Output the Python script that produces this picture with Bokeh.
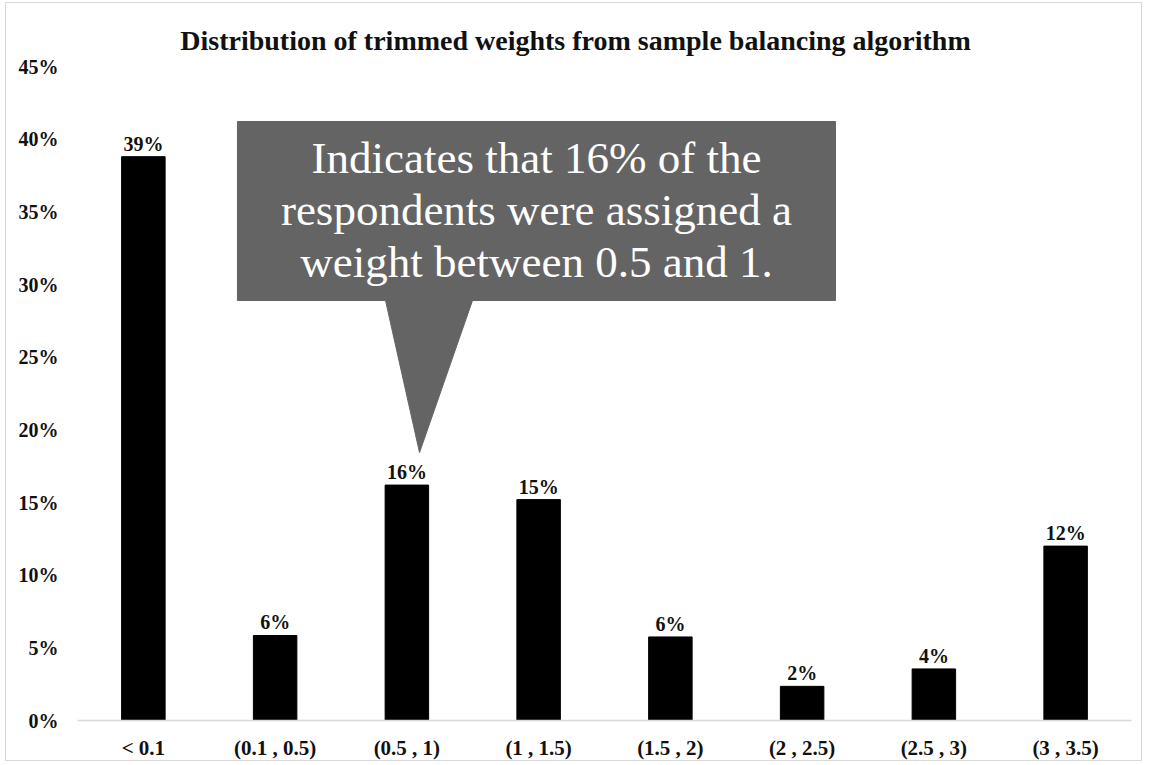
from bokeh.plotting import figure
from bokeh.models import (FactorRange, Range1d, FixedTicker, NumeralTickFormatter,
                          Label, ColumnDataSource)
from bokeh.embed import file_html
from bokeh.resources import INLINE

# Weight bins and share of respondents in each bin
categories = ["< 0.1", "(0.1 , 0.5)", "(0.5 , 1)", "(1 , 1.5)",
              "(1.5 , 2)", "(2 , 2.5)", "(2.5 , 3)", "(3 , 3.5)"]
shares = [0.388, 0.0585, 0.162, 0.152, 0.0575, 0.0235, 0.0355, 0.120]
y_ticks = [0.0, 0.05, 0.10, 0.15, 0.20, 0.25, 0.30, 0.35, 0.40, 0.45]

title_text = "Distribution of trimmed weights from sample balancing algorithm"
note_lines = ["Indicates that 16% of the",
              "respondents were assigned a",
              "weight between 0.5 and 1."]
note_target = "(0.5 , 1)"

SERIF = "Liberation Serif"

p = figure(
    x_range=FactorRange(factors=categories, range_padding=0),
    y_range=Range1d(0, 0.4934),
    width=1137, height=759,
    min_border_left=71, min_border_right=12,
    min_border_top=0, min_border_bottom=42,
    output_backend="svg", toolbar_location=None,
    background_fill_color="white", border_fill_color="white",
)
p.margin = (2, 0, 0, 5)
p.styles = {"border": "1px solid #d9d9d9"}
p.outline_line_color = None
p.xgrid.grid_line_color = None
p.ygrid.grid_line_color = None

# Bars
src = ColumnDataSource(dict(
    cat=categories,
    share=shares,
    label=[f"{round(v * 100)}%" for v in shares],
))
p.vbar(x="cat", top="share", width=0.33, source=src,
       fill_color="black", line_color="black")

# Value labels above each bar
p.text(x="cat", y="share", text="label", source=src,
       text_align="center", text_baseline="alphabetic", y_offset=-13,
       text_font=SERIF, text_font_style="bold", text_font_size="20px",
       text_color="#111111")

# Axes
p.yaxis.ticker = FixedTicker(ticks=y_ticks)
p.yaxis.formatter = NumeralTickFormatter(format="0%")
p.yaxis.axis_line_color = None
p.yaxis.major_tick_line_color = None
p.yaxis.minor_tick_line_color = None
p.yaxis.major_label_standoff = 13
p.yaxis.major_label_text_font = SERIF
p.yaxis.major_label_text_font_style = "bold"
p.yaxis.major_label_text_font_size = "20px"
p.yaxis.major_label_text_color = "#111111"

p.xaxis.axis_line_color = "#d9d9d9"
p.xaxis.axis_line_width = 1.5
p.xaxis.major_tick_line_color = None
p.xaxis.minor_tick_line_color = None
p.xaxis.major_label_standoff = 9
p.xaxis.major_label_text_font = SERIF
p.xaxis.major_label_text_font_style = "bold"
p.xaxis.major_label_text_font_size = "21px"
p.xaxis.major_label_text_color = "#111111"

# Title
p.add_layout(Label(x=4.0, y=0.4679, x_offset=-29, text=title_text,
                   text_align="center", text_baseline="alphabetic",
                   text_font=SERIF, text_font_style="bold",
                   text_font_size="28px", text_color="#111111"))

# Callout box pointing at the highlighted bin
idx = categories.index(note_target)
target_share = shares[idx]
box_l, box_r = 1.214, 5.753
box_b, box_t = 0.289, 0.4122
tip_x = idx + 0.5 + 0.096
tip_y = target_share + 0.0224
base_l, base_r = idx + 0.338, idx + 0.998
p.patch(x=[box_l, box_r, box_r, base_r, tip_x, base_l, box_l],
        y=[box_t, box_t, box_b, box_b, tip_y, box_b, box_b],
        fill_color="#646464", line_color="#646464")

box_cx = (box_l + box_r) / 2
for line, yb in zip(note_lines, [0.3874, 0.3516, 0.3158]):
    p.add_layout(Label(x=box_cx, y=yb, text=line,
                       text_align="center", text_baseline="alphabetic",
                       text_font=SERIF, text_font_size="45px",
                       text_color="white"))

open("out.html", "w").write(file_html(p, INLINE))
